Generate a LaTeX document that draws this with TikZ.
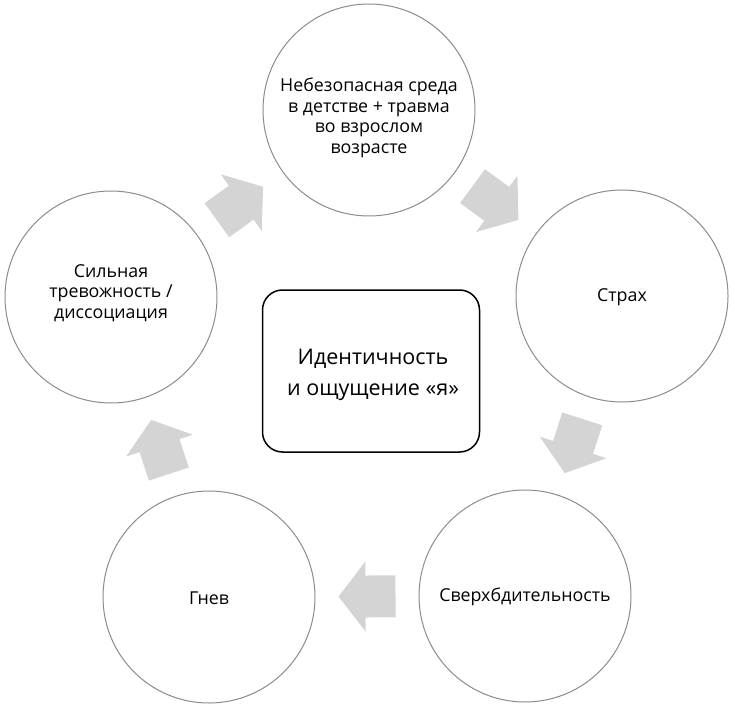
\documentclass[tikz,border=0pt]{standalone}
\usepackage{fontspec}
\setmainfont{Open Sans}
\begin{document}
\begin{tikzpicture}[x=1pt,y=-1pt,
  stage/.style={circle, draw=black!45, line width=1pt, minimum size=212pt, inner sep=0pt, fill=white},
  stagetext/.style={align=center, inner sep=0pt, font=\fontsize{17.8}{20.5}\selectfont},
  core/.style={draw=black, line width=1.5pt, rounded corners=20pt, minimum width=217pt, minimum height=162pt},
  coretext/.style={align=center, inner sep=0pt, font=\fontsize{21.5}{31}\selectfont},
  barrow/.pic={\fill[arrowgray] (-28.5,-21) -- (1.5,-21) -- (1.5,-35) -- (28.5,0) -- (1.5,35) -- (1.5,21) -- (-28.5,21) -- cycle;}
]
\definecolor{arrowgray}{RGB}{212,212,212}
\useasboundingbox (0,0) rectangle (735,708);
\node[stage] (top) at (369,110) {};
\node[stagetext] (toptext) at (369,118) {Небезопасная среда\\в детстве + травма\\во взрослом\\возрасте};
\node[stage] (right) at (622,296) {};
\node[stagetext] (righttext) at (622,297) {Страх};
\node[stage] (br) at (525,596) {};
\node[stagetext] (brtext) at (525,597) {Сверхбдительность};
\node[stage] (bl) at (209,597) {};
\node[stagetext] (bltext) at (209,598) {Гнев};
\node[stage] (left) at (111,297) {};
\node[stagetext] (lefttext) at (111,293) {Сильная\\тревожность /\\диссоциация};
\node[core] (center) at (371,371) {};
\node[coretext] (centertext) at (373,375) {Идентичность\\и ощущение «я»};
\path (left) -- pic[pos=0.5, sloped, allow upside down] {barrow} (top);
\path (top) -- pic[pos=0.5, sloped, allow upside down] {barrow} (right);
\path (right) -- pic[pos=0.5, sloped, allow upside down] {barrow} (br);
\path (br) -- pic[pos=0.5, sloped, allow upside down] {barrow} (bl);
\path (bl) -- pic[pos=0.5, sloped, allow upside down] {barrow} (left);
\end{tikzpicture}
\end{document}
